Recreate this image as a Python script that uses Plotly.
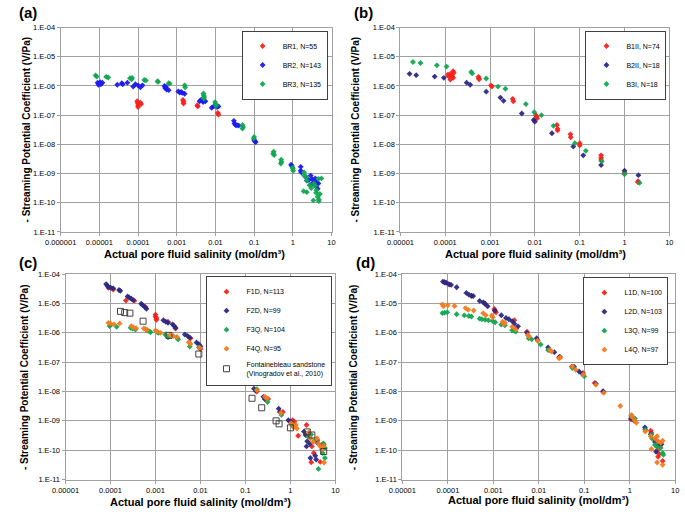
import plotly.graph_objects as go

# ---------------- tick labels ----------------
x_tick_vals_a = [1e-6, 1e-5, 1e-4, 1e-3, 1e-2, 1e-1, 1, 10]
x_tick_text_a = ["0.000001", "0.00001", "0.0001", "0.001", "0.01", "0.1", "1", "10"]
x_tick_vals = [1e-5, 1e-4, 1e-3, 1e-2, 1e-1, 1, 10]
x_tick_text = ["0.00001", "0.0001", "0.001", "0.01", "0.1", "1", "10"]
y_tick_vals = [1e-11, 1e-10, 1e-9, 1e-8, 1e-7, 1e-6, 1e-5, 1e-4]
y_tick_text = ["1.E-11", "1.E-10", "1.E-09", "1.E-08", "1.E-07", "1.E-06", "1.E-05", "1.E-04"]

# ---------------- panel (a) ----------------
br1_x = [9.5e-5, 9.8e-5, 1.0e-4, 1.0e-4, 1.15e-4, 1.2e-4, 1.45e-3, 1.5e-3, 1.5e-3, 3.4e-3, 3.5e-3, 0.0115, 0.012]
br1_y = [3.0e-7, 2.6e-7, 2.2e-7, 1.9e-7, 2.7e-7, 2.4e-7, 3.3e-7, 2.9e-7, 2.5e-7, 2.2e-7, 2.0e-7, 1.2e-7, 1.05e-7]

br2_x = [9e-6, 1.0e-5, 1.05e-5, 1.1e-5, 1.2e-5, 9.5e-6, 2.9e-5, 3.8e-5, 4.0e-5, 5.3e-5, 7.5e-5, 8.5e-5,
         1.0e-4, 1.15e-4, 1.3e-4, 4.8e-4, 5.0e-4, 5.5e-4, 6.2e-4, 5.3e-4, 1.1e-3, 1.2e-3, 1.3e-3, 1.4e-3,
         1.6e-3, 3.9e-3, 4.3e-3, 4.6e-3, 5.5e-3, 4.8e-3, 8e-3, 9e-3, 0.011, 0.012, 0.03, 0.031, 0.033,
         0.036, 0.04, 0.1, 0.105, 0.11, 0.9, 0.95, 1.6, 1.6, 1.65, 2.2, 2.3, 2.9, 3.2, 3.5, 4.1, 4.6, 3.0,
         4.0, 2.6, 3.8, 4.4]
br2_y = [1.3e-6, 1.2e-6, 1.35e-6, 1.15e-6, 1.3e-6, 1.1e-6, 1.1e-6, 1.25e-6, 1.15e-6, 1.3e-6, 0.95e-6, 1.15e-6,
         1.05e-6, 0.9e-6, 1.05e-6, 1.0e-6, 0.85e-6, 0.75e-6, 0.72e-6, 0.92e-6, 6.5e-7, 6.0e-7, 6.2e-7, 5.8e-7,
         5.4e-7, 3.0e-7, 3.4e-7, 3.2e-7, 3.0e-7, 2.8e-7, 1.8e-7, 2.0e-7, 1.9e-7, 2.0e-7, 6.4e-8, 5.2e-8, 4.6e-8,
         4.5e-8, 4.4e-8, 1.4e-8, 1.25e-8, 1.2e-8, 2.0e-9, 1.8e-9, 1.7e-9, 1.25e-9, 1.1e-9, 7.5e-10, 5.8e-10,
         8.5e-10, 6.4e-10, 5.0e-10, 5.0e-10, 4.6e-10, 4.2e-10, 3.5e-10, 6.0e-10, 6.8e-10, 3.0e-10]

br3_x = [8e-6, 8.5e-6, 1.5e-5, 1.7e-5, 6.2e-5, 6.8e-5, 7.0e-5, 1.45e-4, 1.6e-4, 3.2e-4, 3.3e-4, 6.2e-4, 6.6e-4,
         1.6e-3, 1.65e-3, 4.9e-3, 5.0e-3, 5.1e-3, 5.0e-3, 9.8e-3, 0.01, 0.0105, 0.05, 0.052, 0.05, 0.1, 0.098,
         0.32, 0.31, 0.33, 0.5, 0.51, 0.49, 1.0, 1.02, 0.98, 1.95, 1.95, 2.25, 2.3, 3.5, 3.8, 4.1, 4.6, 5.5,
         1.9, 2.3, 3.4, 4.4, 4.7, 4.7, 3.0, 2.7, 5.0, 4.0]
br3_y = [2.3e-6, 2.1e-6, 2.05e-6, 1.95e-6, 1.85e-6, 1.7e-6, 1.9e-6, 1.6e-6, 1.55e-6, 1.45e-6, 1.38e-6, 1.25e-6,
         1.2e-6, 1.05e-6, 0.9e-6, 5.5e-7, 4.8e-7, 4.2e-7, 3.7e-7, 2.8e-7, 2.4e-7, 2.1e-7, 4.6e-8, 3.9e-8, 3.5e-8,
         1.8e-8, 1.6e-8, 5.6e-9, 4.8e-9, 4.3e-9, 3.0e-9, 2.5e-9, 2.2e-9, 1.45e-9, 1.25e-9, 1.6e-9, 1.1e-9,
         8.5e-10, 7.5e-10, 5.8e-10, 4.6e-10, 3.8e-10, 2.7e-10, 6.6e-10, 6.8e-10, 2.5e-10, 2.3e-10, 1.2e-10,
         1.6e-10, 1.3e-10, 1.15e-10, 3.2e-10, 4.0e-10, 2.0e-10, 2.2e-10]

# ---------------- panel (b) ----------------
b1_x = [1.15e-4, 1.2e-4, 1.3e-4, 1.4e-4, 1.5e-4, 1.5e-4, 1.55e-4, 1.3e-4, 1.45e-4, 5.5e-4, 5.6e-4, 5.7e-4,
        1.05e-3, 1.1e-3, 3.2e-3, 3.3e-3, 0.0105, 0.011, 0.0112, 0.031, 0.032, 0.032, 0.062, 0.063, 0.1, 0.1,
        0.3, 0.3, 0.3, 1.0, 2.0, 2.0]
b1_y = [2.45e-6, 2.1e-6, 2.6e-6, 2.3e-6, 3.2e-6, 1.9e-6, 2.8e-6, 1.65e-6, 2.0e-6, 2.05e-6, 1.85e-6, 1.7e-6,
        1.05e-6, 0.95e-6, 3.6e-7, 3.0e-7, 1.0e-7, 8.8e-8, 7.8e-8, 4.6e-8, 3.4e-8, 3.0e-8, 2.2e-8, 1.75e-8,
        1.1e-8, 9.2e-9, 4.2e-9, 3.4e-9, 2.9e-9, 1.05e-9, 5.5e-10, 5.0e-10]

b2_x = [1.6e-5, 2.25e-5, 5.8e-5, 9.3e-5, 3.0e-4, 3.6e-4, 8.2e-4, 1.7e-3, 2.0e-3, 5.1e-3, 9.4e-3, 0.01,
        0.024, 0.072, 0.12, 0.3, 1.0, 2.04]
b2_y = [2.6e-6, 2.35e-6, 2.1e-6, 1.9e-6, 1.3e-6, 1.1e-6, 6.4e-7, 4.0e-7, 3.1e-7, 1.14e-7, 6.8e-8, 6.0e-8,
        2.4e-8, 8.4e-9, 4.2e-9, 1.95e-9, 1.25e-9, 8.8e-10]

b3_x = [1.9e-5, 2.8e-5, 6.5e-5, 1.07e-4, 3.8e-4, 4.0e-4, 8.2e-4, 1.5e-3, 2.2e-3, 6.3e-3, 9.7e-3, 0.014,
        0.026, 0.078, 0.137, 0.31, 1.0, 2.17]
b3_y = [6.6e-6, 6.1e-6, 5.1e-6, 4.6e-6, 3.0e-6, 2.7e-6, 1.8e-6, 9.5e-7, 8.0e-7, 2.4e-7, 1.26e-7, 1.0e-7,
        4.3e-8, 1.1e-8, 6.0e-9, 2.6e-9, 9.5e-10, 4.8e-10]

# ---------------- panel (c) ----------------
f1_x = [9e-5, 1.07e-4, 1.15e-4, 2.2e-4, 3.4e-4, 6.0e-4, 1.0e-3, 1.0e-3, 1.05e-3, 1.05e-3, 1.9e-3, 2.8e-3,
        6.0e-3, 9.6e-3, 1.0e-2, 0.0165, 0.017, 0.028, 0.06, 0.11, 0.18, 0.32, 0.68, 1.12, 1.22, 1.49, 2.28,
        3.0, 3.3, 4.6, 2.9, 4.0, 5.5]
f1_y = [3.4e-5, 3.3e-5, 3.0e-5, 1.27e-5, 1.25e-5, 7.6e-6, 4.2e-6, 3.6e-6, 3.2e-6, 2.8e-6, 2.4e-6, 1.4e-6,
        6.5e-7, 3.2e-7, 2.8e-7, 2.1e-7, 1.7e-7, 9.8e-8, 4.6e-8, 2.3e-8, 1.0e-8, 5.6e-9, 2.0e-9, 1.05e-9,
        9.3e-10, 3.1e-10, 7.2e-10, 1.35e-10, 8e-11, 4e-11, 3.9e-11, 2.2e-10, 1.6e-10]

f2_x = [8e-5, 8.5e-5, 9e-5, 1.0e-4, 1.15e-4, 1.55e-4, 1.65e-4, 2.4e-4, 2.6e-4, 2.9e-4, 3.2e-4, 4.8e-4,
        5.2e-4, 5.8e-4, 6.3e-4, 1.5e-3, 1.7e-3, 1.9e-3, 2.4e-3, 2.6e-3, 2.8e-3, 4.5e-3, 5.2e-3, 5.8e-3,
        8.2e-3, 9.2e-3, 1.0e-2, 0.026, 0.028, 0.048, 0.06, 0.073, 0.085, 0.094, 0.155, 0.17, 0.25, 0.27,
        0.55, 0.58, 0.9, 1.0, 1.03, 2.0, 2.17, 2.36, 2.7, 2.28, 2.78, 3.56, 3.74, 4.0, 5.0]
f2_y = [4.6e-5, 4.0e-5, 3.7e-5, 3.5e-5, 3.3e-5, 2.9e-5, 2.7e-5, 1.75e-5, 1.6e-5, 1.45e-5, 1.3e-5, 9.8e-6,
        8.8e-6, 7.6e-6, 6.6e-6, 2.7e-6, 2.4e-6, 2.2e-6, 1.95e-6, 1.7e-6, 1.5e-6, 8.8e-7, 7.8e-7, 6.8e-7,
        4.7e-7, 4.1e-7, 3.5e-7, 1.2e-7, 1.05e-7, 5.4e-8, 4.3e-8, 3.3e-8, 3.0e-8, 2.6e-8, 1.25e-8, 1.05e-8,
        6.6e-9, 5.5e-9, 2.6e-9, 2.0e-9, 1.05e-9, 9.5e-10, 8.6e-10, 4.3e-10, 3.3e-10, 2.0e-10, 1.65e-10,
        1.35e-10, 5.4e-11, 6.5e-11, 4.8e-11, 1.8e-10, 1.5e-10]

f3_x = [9.5e-5, 1.0e-4, 1.37e-4, 2.8e-4, 3.1e-4, 3.6e-4, 6.5e-4, 7.2e-4, 7.8e-4, 1.1e-3, 1.18e-3, 1.65e-3,
        1.9e-3, 3.0e-3, 3.2e-3, 5.8e-3, 9.2e-3, 0.0165, 0.03, 0.032, 0.086, 0.11, 0.18, 0.31, 0.63, 1.1,
        1.15, 2.9, 5.4, 5.85, 5.2, 5.85, 4.2, 2.5, 3.5]
f3_y = [1.7e-6, 1.8e-6, 1.6e-6, 1.5e-6, 1.4e-6, 1.3e-6, 1.2e-6, 1.15e-6, 1.05e-6, 1.05e-6, 1.0e-6, 8.8e-7,
        7.0e-7, 6.8e-7, 6.0e-7, 3.4e-7, 3.2e-7, 1.35e-7, 8.5e-8, 7.5e-8, 2.8e-8, 2.1e-8, 1.2e-8, 4.4e-9,
        1.6e-9, 6.8e-10, 7.3e-10, 3.4e-10, 1.7e-10, 1.2e-10, 8e-11, 5.4e-11, 2.3e-11, 2.8e-10, 2.2e-10]

f4_x = [9e-5, 1.0e-4, 1.2e-4, 1.6e-4, 2.9e-4, 3.2e-4, 3.7e-4, 5.5e-4, 6.0e-4, 6.5e-4, 1.0e-3, 1.1e-3,
        1.3e-3, 2.1e-3, 2.5e-3, 3.0e-3, 5.5e-3, 6.0e-3, 9.6e-3, 0.0165, 0.029, 0.062, 0.075, 0.094, 0.18,
        0.27, 0.3, 0.61, 1.03, 1.32, 1.39, 1.18, 2.56, 2.78, 3.9, 4.2, 4.6, 4.97, 3.2, 5.5, 5.6]
f4_y = [2.2e-6, 2.1e-6, 1.95e-6, 2.1e-6, 1.7e-6, 1.55e-6, 1.45e-6, 1.4e-6, 1.35e-6, 1.25e-6, 1.2e-6, 1.1e-6,
        1.0e-6, 8.5e-7, 7.8e-7, 7.2e-7, 4.8e-7, 4.2e-7, 3.1e-7, 1.55e-7, 8.5e-8, 4.3e-8, 3.6e-8, 2.3e-8,
        1.1e-8, 6.7e-9, 5.8e-9, 1.85e-9, 8.3e-10, 7.2e-10, 5.5e-10, 6.0e-10, 4.0e-10, 2.55e-10, 2.55e-10,
        1.7e-10, 1.35e-10, 1.05e-10, 1.9e-10, 1.4e-10, 3.8e-11]

font_x = [1.67e-4, 2.07e-4, 2.7e-4, 5.3e-4, 2e-3, 9.2e-3, 0.032, 0.066, 0.14, 0.23, 0.48, 0.56, 1.0, 2.37,
          3.0, 5.5]
font_y = [5.4e-6, 4.9e-6, 4.7e-6, 2.5e-6, 8.2e-7, 1.9e-7, 5.2e-8, 2.2e-8, 5.9e-9, 2.8e-9, 1.0e-9, 7.9e-10,
          5.8e-10, 4.2e-10, 3.3e-10, 9e-11]

# ---------------- panel (d) ----------------
l1_x = [8.5e-5, 1.1e-4, 3.3e-4, 6.5e-4, 1.05e-3, 1.1e-3, 1.15e-3, 2.9e-3, 3.2e-3, 5.5e-3, 9.5e-3, 0.017,
        0.028, 0.053, 0.094, 0.17, 0.26, 1.07, 1.25, 2.2, 2.9, 3.0, 3.7, 4.0, 4.2, 4.5, 5.3, 4.6]
l1_y = [5.2e-5, 4.4e-5, 1.8e-5, 1.0e-5, 6.5e-6, 5.5e-6, 5.0e-6, 2.7e-6, 1.4e-6, 1.1e-6, 5.6e-7, 2.6e-7,
        1.45e-7, 7.1e-8, 4.3e-8, 1.95e-8, 9.6e-9, 1.14e-9, 1.0e-9, 5.2e-10, 4.6e-10, 3.9e-10, 2.1e-10,
        1.0e-10, 6e-11, 7.5e-11, 4.3e-11, 1.3e-10]

l2_x = [7.8e-5, 8.5e-5, 9.2e-5, 1.05e-4, 1.18e-4, 1.56e-4, 2.55e-4, 2.9e-4, 3.3e-4, 3.6e-4, 5.0e-4, 6.0e-4,
        6.6e-4, 7.5e-4, 1.08e-3, 1.5e-3, 1.9e-3, 2.2e-3, 2.6e-3, 2.9e-3, 3.5e-3, 5.5e-3, 9.0e-3, 0.016,
        0.022, 0.029, 0.06, 0.077, 0.09, 0.18, 0.26, 1.07, 1.2, 2.16, 2.9, 3.6, 3.8, 4.2, 5.0]
l2_y = [5.6e-5, 5.3e-5, 5.1e-5, 4.6e-5, 4.3e-5, 3.6e-5, 2.3e-5, 2.0e-5, 1.85e-5, 1.8e-5, 1.23e-5, 1.1e-5,
        9.8e-6, 8.1e-6, 5.8e-6, 4.0e-6, 3.2e-6, 2.9e-6, 2.5e-6, 2.05e-6, 1.67e-6, 1.0e-6, 6.6e-7, 3.2e-7,
        2.2e-7, 1.55e-7, 7.0e-8, 4.8e-8, 4.0e-8, 1.85e-8, 1.02e-8, 1.2e-9, 1.1e-9, 6.0e-10, 3.5e-10,
        1.9e-10, 8.8e-11, 1.5e-10, 1.6e-10]

l3_x = [7.6e-5, 8.5e-5, 9.7e-5, 1.56e-4, 2.3e-4, 2.9e-4, 3.3e-4, 5.0e-4, 5.6e-4, 6.6e-4, 7.8e-4, 9.7e-4,
        1.1e-3, 1.5e-3, 1.8e-3, 2.6e-3, 2.9e-3, 3.1e-3, 6.0e-3, 7.0e-3, 0.011, 0.016, 0.055, 0.1, 1.07,
        1.3, 2.2, 3.0, 3.1, 3.6, 4.0, 4.8, 5.3, 5.5]
l3_y = [4.7e-6, 4.9e-6, 5.0e-6, 4.3e-6, 3.95e-6, 3.75e-6, 3.6e-6, 3.05e-6, 2.9e-6, 2.8e-6, 2.7e-6, 2.5e-6,
        2.3e-6, 1.9e-6, 1.8e-6, 1.23e-6, 1.18e-6, 1.1e-6, 6.5e-7, 6.0e-7, 4.0e-7, 2.6e-7, 6.3e-8, 3.3e-8,
        1.47e-9, 1.2e-9, 5.0e-10, 3.4e-10, 2.5e-10, 1.5e-10, 1.3e-10, 1.2e-10, 8e-11, 7e-11]

l4_x = [7.6e-5, 8e-5, 1.0e-4, 1.4e-4, 2.45e-4, 2.8e-4, 3.7e-4, 6.0e-4, 6.8e-4, 9.2e-4, 9.7e-4, 1.6e-3,
        1.7e-3, 1.8e-3, 2.6e-3, 3.1e-3, 5.7e-3, 6.2e-3, 9.4e-3, 0.0177, 0.019, 0.028, 0.03, 0.055, 0.065,
        0.095, 0.18, 0.27, 0.62, 1.1, 1.15, 1.3, 1.4, 2.2, 2.9, 3.0, 3.6, 4.0, 4.2, 4.8, 5.3, 4.0, 5.3]
l4_y = [9.3e-6, 8.0e-6, 8.7e-6, 8.2e-6, 7.0e-6, 6.1e-6, 5.8e-6, 4.7e-6, 4.0e-6, 3.9e-6, 3.4e-6, 2.4e-6,
        2.0e-6, 2.2e-6, 1.6e-6, 1.3e-6, 8.4e-7, 7.5e-7, 5.4e-7, 2.6e-7, 2.3e-7, 1.36e-7, 1.45e-7, 7.2e-8,
        5.5e-8, 3.8e-8, 1.7e-8, 9e-9, 3.2e-9, 1.6e-9, 1.3e-9, 1.0e-9, 8.6e-10, 4.3e-10, 3.0e-10, 1.1e-10,
        2.5e-10, 3.0e-10, 2.0e-10, 1.8e-10, 2.1e-10, 3.8e-11, 3.2e-11]

# ---------------- styling ----------------
RED = "#F5231B"
BLUE = "#1A1AF0"
GREEN = "#12A651"
NAVY = "#2B2883"
ORANGE = "#F47B20"
GRID = "#A0A0A0"
FONT = "Liberation Sans, Arial, sans-serif"
W, H = 685, 515

fig = go.Figure()

def add(xs, ys, name, color, ax, leg, symbol="diamond", size=4.5, open_=False):
    n = "" if ax == 1 else str(ax)
    fig.add_trace(go.Scatter(
        x=xs, y=ys, mode="markers", name=name,
        xaxis="x" + n, yaxis="y" + n, legend=leg, legendgroup=name,
        marker=dict(symbol=symbol, size=size, color=color, opacity=0.95,
                    line=dict(width=1 if open_ else 0, color=color)),
    ))

add(br1_x, br1_y, "BR1, N=55", RED, 1, "legend")
add(br2_x, br2_y, "BR2, N=143", BLUE, 1, "legend")
add(br3_x, br3_y, "BR3, N=135", GREEN, 1, "legend")

add(b1_x, b1_y, "B1II, N=74", RED, 2, "legend2")
add(b2_x, b2_y, "B2II, N=18", NAVY, 2, "legend2")
add(b3_x, b3_y, "B3I, N=18", GREEN, 2, "legend2")

add(f1_x, f1_y, "F1D, N=113", RED, 3, "legend3")
add(f2_x, f2_y, "F2D, N=99", NAVY, 3, "legend3")
add(f3_x, f3_y, "F3Q, N=104", GREEN, 3, "legend3")
add(f4_x, f4_y, "F4Q, N=95", ORANGE, 3, "legend3")
add(font_x, font_y, "Fontainebleau sandstone<br>(Vinogradov et al., 2010)", "#3A3A3A", 3, "legend3",
    symbol="square-open", size=6, open_=True)

add(l1_x, l1_y, "L1D, N=100", RED, 4, "legend4")
add(l2_x, l2_y, "L2D, N=103", NAVY, 4, "legend4")
add(l3_x, l3_y, "L3Q, N=99", GREEN, 4, "legend4")
add(l4_x, l4_y, "L4Q, N=97", ORANGE, 4, "legend4")

# pixel boxes of the plot areas: (left, right, top, bottom)
boxes = {1: (46, 325, 24, 232), 2: (396, 673, 24, 232), 3: (51, 329, 275, 484), 4: (398, 679, 275, 484)}

def xdom(b):
    return [b[0] / W, b[1] / W]

def ydom(b):
    return [1 - b[3] / H, 1 - b[2] / H]

common = dict(type="log", showgrid=True, gridcolor=GRID, gridwidth=1, showline=True, linecolor=GRID,
              linewidth=1, mirror=True, ticks="outside", ticklen=3, tickcolor=GRID, zeroline=False,
              tickfont=dict(family=FONT, size=7.5, color="#000000"), fixedrange=True)

layout = dict(width=W, height=H, margin=dict(l=0, r=0, t=0, b=0), paper_bgcolor="white",
              plot_bgcolor="white", font=dict(family=FONT, color="#000000"))

for i, b in boxes.items():
    n = "" if i == 1 else str(i)
    xr = [-6, 1] if i == 1 else [-5, 1]
    layout["xaxis" + n] = dict(common, domain=xdom(b), range=xr, anchor="y" + n,
                               tickvals=x_tick_vals_a if i == 1 else x_tick_vals,
                               ticktext=x_tick_text_a if i == 1 else x_tick_text)
    layout["yaxis" + n] = dict(common, domain=ydom(b), range=[-11, -4], anchor="x" + n,
                               tickvals=y_tick_vals, ticktext=y_tick_text)

def legend(right, top):
    return dict(x=right / W, y=1 - top / H, xanchor="right", yanchor="top", bgcolor="white",
                bordercolor="#404040", borderwidth=1, font=dict(family=FONT, size=7),
                tracegroupgap=0, itemwidth=30)

layout["legend"] = legend(321, 27)
layout["legend2"] = legend(670, 27)
layout["legend3"] = legend(325, 277)
layout["legend4"] = legend(672, 278)

fig.update_layout(**layout)

annots = []
ytitle = "- Streaming Potential Coefficient (V/Pa)"
xtitle = "Actual pore fluid salinity (mol/dm³)"
for lab, (lx, ly), (yx, yy), (xx, xy) in [
    ("(a)", (12, 9), (11, 128), (184, 254)),
    ("(b)", (358, 9), (350, 128), (535, 254)),
    ("(c)", (12, 263), (9, 380), (190, 507)),
    ("(d)", (360, 263), (348, 380), (538, 505)),
]:
    annots.append(dict(text="<b>%s</b>" % lab, x=lx / W, y=1 - ly / H, xref="paper", yref="paper",
                       showarrow=False, xanchor="center", yanchor="middle",
                       font=dict(family=FONT, size=15)))
    annots.append(dict(text="<b>%s</b>" % ytitle, x=yx / W, y=1 - yy / H, xref="paper", yref="paper",
                       showarrow=False, xanchor="center", yanchor="middle", textangle=-90,
                       font=dict(family=FONT, size=10)))
    annots.append(dict(text="<b>%s</b>" % xtitle, x=xx / W, y=1 - xy / H, xref="paper", yref="paper",
                       showarrow=False, xanchor="center", yanchor="middle",
                       font=dict(family=FONT, size=11)))
fig.update_layout(annotations=annots)

fig.write_html("out.html", config={"displayModeBar": False},
               post_script="document.body.style.margin='0';document.body.style.overflow='hidden';")
